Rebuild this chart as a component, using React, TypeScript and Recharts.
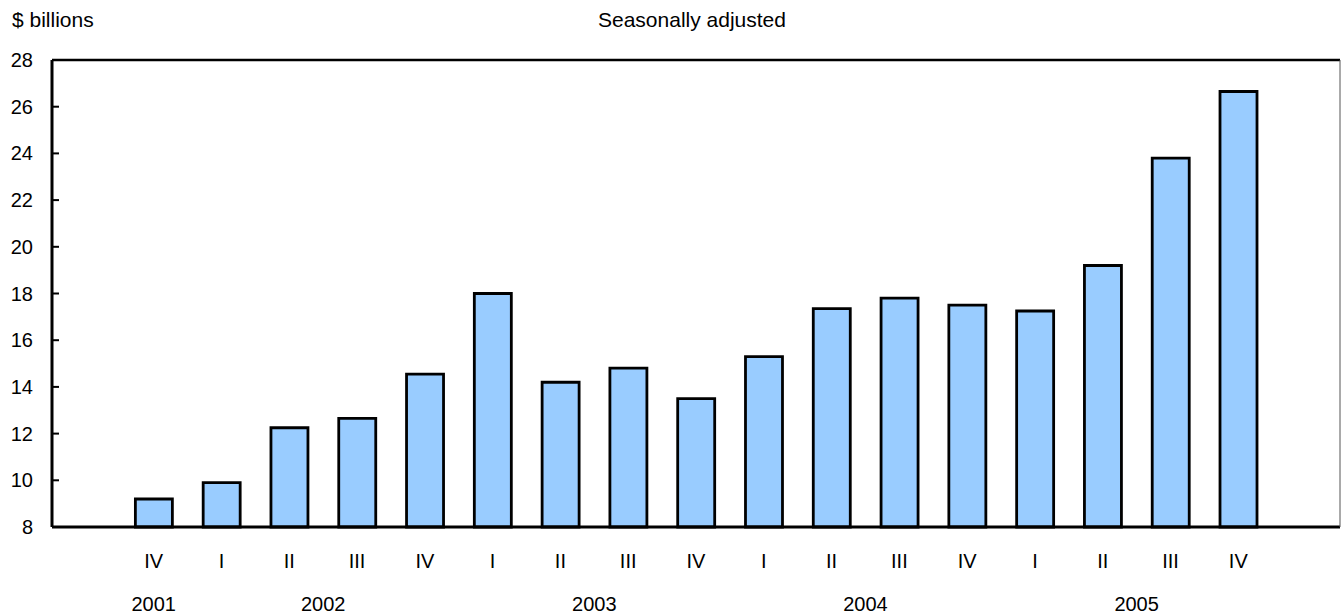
import { BarChart, Bar, XAxis, YAxis, ReferenceLine } from 'recharts'

// quarters, padded with an empty category on each side
const quarters = ['', 'IV', 'I', 'II', 'III', 'IV', 'I', 'II', 'III', 'IV', 'I', 'II', 'III', 'IV', 'I', 'II', 'III', 'IV', '']
const years = ['', '2001', '2002', '2002', '2002', '2002', '2003', '2003', '2003', '2003', '2004', '2004', '2004', '2004', '2005', '2005', '2005', '2005', '']
const values = [null, 9.2, 9.9, 12.25, 12.65, 14.55, 18.0, 14.2, 14.8, 13.5, 15.3, 17.35, 17.8, 17.5, 17.25, 19.2, 23.8, 26.65, null]
const yTicks = [8, 10, 12, 14, 16, 18, 20, 22, 24, 26, 28]

const W = 1341
const H = 615
const Y_AXIS_W = 52
const PLOT_W = W - Y_AXIS_W - 1
const FONT = '"Liberation Sans", Arial, Helvetica, sans-serif'

const data = quarters.map((q, i) => ({
  key: `${years[i] || 'pad'}-${q || i}`,
  quarter: q,
  year: years[i],
  value: values[i],
}))

function YTick({ x, y, payload }: any) {
  return (
    <g>
      <line x1={x} x2={x + 7} y1={y} y2={y} stroke="#000" strokeWidth={2} />
      <text x={x - 19} y={y} dy={7} textAnchor="end" fontSize={20} fontFamily={FONT} fill="#000">
        {payload.value}
      </text>
    </g>
  )
}

function XTick({ x, y, index }: any) {
  const q = quarters[index]
  const yr = years[index]
  let yearLabel = null
  if (yr && (index === 0 || years[index - 1] !== yr)) {
    let n = 0
    while (years[index + n] === yr) n++
    const band = PLOT_W / quarters.length
    yearLabel = (
      <text x={x + ((n - 1) / 2) * band} y={y + 84} textAnchor="middle" fontSize={20} fontFamily={FONT} fill="#000">
        {yr}
      </text>
    )
  }
  return (
    <g>
      {q && (
        <text x={x} y={y + 41} textAnchor="middle" fontSize={20} fontFamily={FONT} fill="#000">
          {q}
        </text>
      )}
      {yearLabel}
    </g>
  )
}

export default function App() {
  return (
    <div style={{ position: 'absolute', left: 0, top: 0, width: W, height: H, background: '#fff', fontFamily: FONT }}>
      <div style={{ position: 'absolute', left: 12, top: 9, fontSize: 21, lineHeight: '21px', color: '#000' }}>$ billions</div>
      <div style={{ position: 'absolute', left: 598, top: 9, fontSize: 21, lineHeight: '21px', color: '#000' }}>
        Seasonally adjusted
      </div>
      <BarChart
        width={W}
        height={H}
        data={data}
        margin={{ top: 60, right: 0, left: 0, bottom: 0 }}
        barCategoryGap="23%"
      >
        <XAxis
          dataKey="key"
          interval={0}
          height={88}
          tickLine={false}
          tickSize={0}
          tickMargin={0}
          axisLine={{ stroke: '#000', strokeWidth: 3 }}
          tick={<XTick />}
        />
        <YAxis
          domain={[8, 28]}
          ticks={yTicks}
          width={Y_AXIS_W}
          interval={0}
          tickLine={false}
          tickSize={0}
          tickMargin={0}
          axisLine={{ stroke: '#000', strokeWidth: 3 }}
          tick={<YTick />}
        />
        <YAxis
          yAxisId="frame"
          orientation="right"
          domain={[8, 28]}
          width={1}
          tick={false}
          tickLine={false}
          axisLine={{ stroke: '#555', strokeWidth: 1 }}
        />
        <ReferenceLine y={28} stroke="#000" strokeWidth={2.5} />
        <Bar dataKey="value" fill="#99CCFF" stroke="#000" strokeWidth={2.8} isAnimationActive={false} />
      </BarChart>
    </div>
  )
}
